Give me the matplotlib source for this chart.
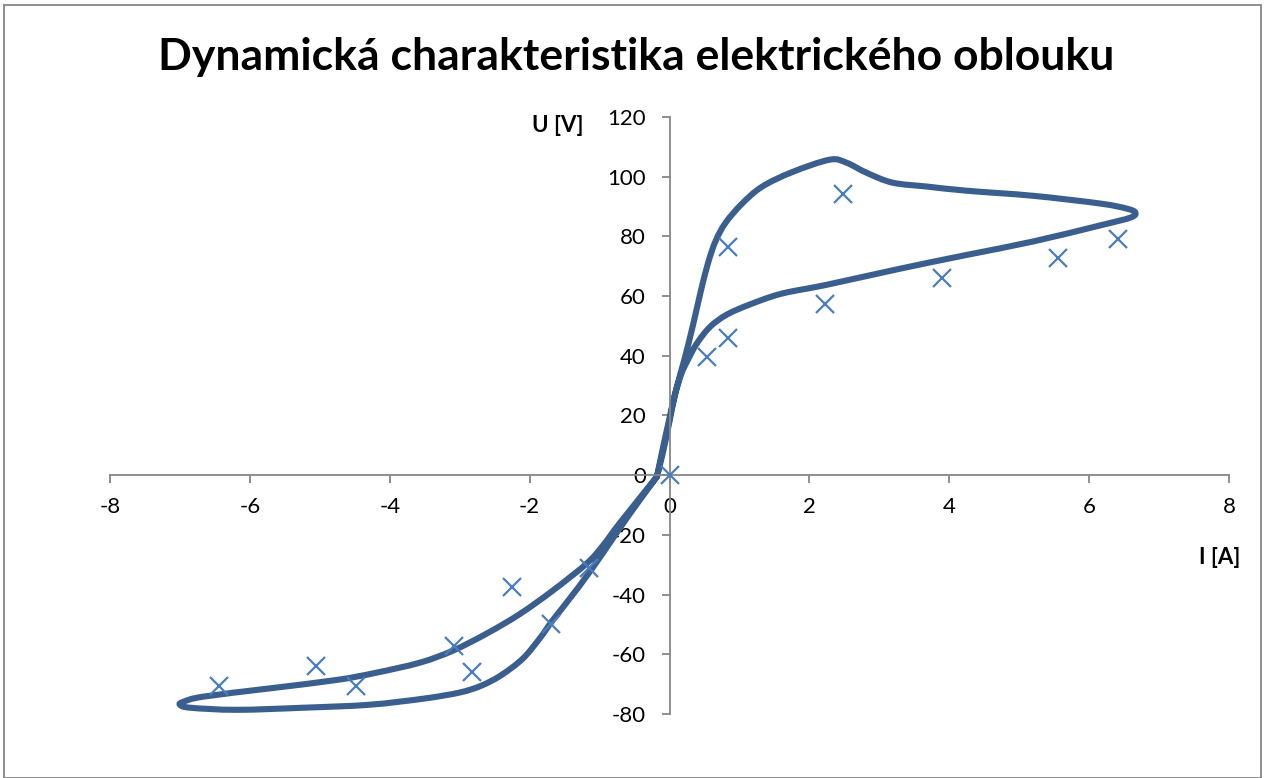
"""Dynamická charakteristika elektrického oblouku — smyčka U(I) + naměřené body."""
import numpy as np
import matplotlib
matplotlib.use("Agg")
import matplotlib.pyplot as plt
from matplotlib.patches import Rectangle, PathPatch
from matplotlib.path import Path

plt.rcParams.update({"font.family": ["Lato", "DejaVu Sans"], "axes.unicode_minus": False})

# kladná smyčka: proud [A], napětí [V]
pos_i = [-0.18, -0.1, -0.02, 0.08, 0.21, 0.33, 0.44, 0.55, 0.66, 0.8, 1.03, 1.32, 1.75,
         2.29, 2.53, 2.82, 3.19, 3.68, 4.25, 5.2, 6.16, 6.54, 6.66, 6.59, 6.16,
         5.2, 4.25, 3.3, 2.25, 1.6, 1.15, 0.82, 0.58, 0.39, 0.26, 0.17, 0.08, 0.0,
         -0.09, -0.18]
pos_u = [-0.5, 8.5, 17.0, 27.4, 38.5, 49.7, 60.9, 71.0, 78.5, 84.5, 90.8, 96.6, 101.5,
         105.7, 104.7, 101.3, 98.0, 96.7, 95.3, 93.6, 91.0, 89.3, 88.0, 86.3, 83.7,
         78.3, 73.8, 69.2, 63.8, 60.8, 57.2, 53.8, 49.7, 44.1, 38.5, 34.0, 27.0, 18.0,
         8.0, -0.5]
# záporná smyčka
neg_i = [-0.18, -0.71, -0.95, -1.18, -1.66, -2.14, -2.61, -3.1, -3.57, -4.2, -4.76, -5.71,
         -6.67, -6.95, -7.0, -6.85, -6.19, -5.24, -4.29, -3.5, -3.0, -2.7, -2.42,
         -2.1, -1.85, -1.67, -1.3, -0.95, -0.6, -0.18]
neg_u = [-0.5, -16.0, -23.5, -29.5, -38.5, -46.5, -53.0, -58.8, -62.8, -66.2, -68.6, -71.4,
         -74.2, -75.9, -76.9, -77.9, -78.6, -77.9, -76.9, -74.8, -72.8, -70.6, -67.2,
         -61.5, -54.5, -48.6, -37.5, -26.0, -14.0, -0.5]

# naměřené body
meas_i = [0.0, 0.53, 0.83, 0.83, 2.22, 2.48, 3.9, 5.56, 6.42,
          -1.15, -1.69, -2.25, -3.08, -2.82, -5.05, -4.48, -6.44]
meas_u = [0.0, 39.5, 46.0, 76.6, 57.2, 94.3, 66.0, 72.6, 79.0,
          -31.0, -50.0, -37.5, -57.2, -66.0, -64.0, -70.6, -70.6]

xticks = list(range(-8, 9, 2))
yticks = list(range(-80, 121, 20))


def smooth_path(xs, ys):
    """Vyhlazená čára jako v Excelu: Bézierovy segmenty přes zadané body."""
    p = np.column_stack([xs, ys]).astype(float)
    ext = np.vstack([p[0], p, p[-1]])
    verts = [p[0]]; codes = [Path.MOVETO]
    for k in range(1, len(ext) - 2):
        p0, p1, p2, p3 = ext[k - 1], ext[k], ext[k + 1], ext[k + 2]
        verts += [p1 + (p2 - p0) / 6, p2 - (p3 - p1) / 6, p2]
        codes += [Path.CURVE4] * 3
    return Path(verts, codes)


fig = plt.figure(figsize=(12.65, 7.78), dpi=100)
ax = fig.add_axes([110 / 1265, 1 - 714 / 778, 1119 / 1265, 597 / 778])

for xs, ys in ((pos_i, pos_u), (neg_i, neg_u)):
    ax.add_patch(PathPatch(smooth_path(xs, ys), fill=False, ec="#3A5F8E", lw=4.4,
                           joinstyle="round", capstyle="round", zorder=2))
ax.plot(meas_i, meas_u, ls="none", marker="x", ms=13.5, mew=1.6, color="#4A7EBB", zorder=3)

ax.set_xlim(-8, 8); ax.set_ylim(-80, 120)
ax.set_xticks(xticks); ax.set_yticks(yticks)
ax.spines["left"].set_position(("data", 0))
ax.spines["bottom"].set_position(("data", 0))
for s in ("top", "right"):
    ax.spines[s].set_visible(False)
for s in ("left", "bottom"):
    ax.spines[s].set_color("#868686"); ax.spines[s].set_linewidth(1.3)
ax.tick_params(axis="both", direction="out", length=6, width=1.3, color="#868686",
               labelsize=16, labelcolor="black")
ax.tick_params(axis="y", pad=11)
ax.tick_params(axis="x", pad=10)
ax.set_facecolor("none")

fig.text(0.503, 1 - 57 / 778, "Dynamická charakteristika elektrického oblouku",
         ha="center", va="center", fontsize=32, fontweight="bold")
fig.text(558 / 1265, 1 - 125 / 778, "U [V]", ha="center", va="center",
         fontsize=16, fontweight="bold")
fig.text(1220 / 1265, 1 - 558 / 778, "I [A]", ha="center", va="center",
         fontsize=16, fontweight="bold")

fig.patches.append(Rectangle((4 / 1265, 0), 1257 / 1265, 1 - 5 / 778, transform=fig.transFigure,
                             fill=False, ec="#868686", lw=1.3))

fig.savefig("out.png", dpi=100)
